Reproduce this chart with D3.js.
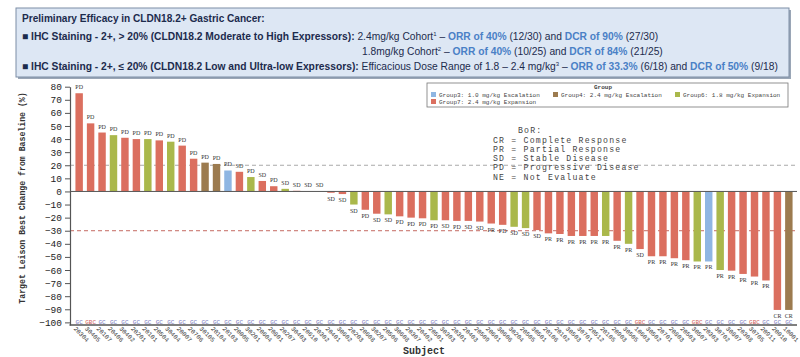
<!DOCTYPE html>
<html><head><meta charset="utf-8">
<script src="https://cdn.jsdelivr.net/npm/d3@7"></script>
<style>
body{margin:0;background:#fff;}
svg{display:block;}
</style></head><body>
<svg id="c" width="800" height="357"></svg>
<script>
const subjects = ["20304","30405","20107","20406","30402","20201","20101","20504","30404","20007","20706","30105","20104","20103","20005","30201","20604","20801","20207","30403","20610","20302","20401","30602","20203","20608","30207","20506","30608","20307","20402","20501","30303","20301","20403","20509","20601","30606","30204","20505","30501","20106","20102","30503","30701","20512","20105","20903","30505","10603","30502","20701","20803","20503","30507","20303","30702","30807","20308","30705","20911","20010","10001"];
const changes = [75,52,45,43,41,40,40,39,38,35,25,22,21,16,15,11,8,4,2,0.5,0,0,-1,-2,-10,-14,-17,-17.5,-19,-20,-20.5,-22,-22,-22.5,-22.5,-23,-24.5,-25.5,-27,-28,-29.5,-32,-32.5,-34,-34,-34,-34,-37.7,-40,-44,-49.5,-49.5,-51,-52.5,-53.5,-53.5,-60,-60.5,-63,-65,-68,-90.5,-90.5];
const groups = ["G7","G7","G7","G6","G7","G7","G6","G7","G6","G7","G7","G4","G4","G3","G7","G6","G7","G7","G6","G7","G7","G7","G7","G7","G6","G7","G7","G6","G7","G7","G7","G6","G7","G7","G7","G7","G7","G7","G6","G6","G7","G7","G7","G7","G7","G7","G6","G7","G6","G7","G7","G7","G7","G7","G6","G3","G6","G7","G7","G7","G7","G7","G4"];
const bors = ["PD","PD","PD","PD","PD","PD","PD","PD","PD","PD","PD","PD","PD","PD","SD","PD","SD","PD","SD","SD","SD","SD","SD","SD","SD","PD","SD","SD","PD","PD","PD","PD","SD","PD","SD","SD","PR","PD","SD","SD","SD","PR","PR","PR","PR","PR","PR","PR","PR","SD","PR","PR","PR","PR","PR","PR","PR","PR","PR","PR","PR","CR","CR"];
const tumorTypes = ["GC","GBC","GC","GC","GC","GC","GC","GC","GC","GC","GC","GC","GC","GC","GC","GC","GC","GC","GC","GC","GC","GC","GC","GC","GC","GC","GC","GC","GC","GC","GC","GC","GC","GC","GC","GC","GC","GC","GC","GC","GC","GC","GC","GC","GC","GC","GC","GC","GC","GBC","GC","GC","GC","GC","GBC","GC","GC","GC","GC","GBC","GC","GC","GC"];
const yTicks = [80,70,60,50,40,30,20,10,0,-10,-20,-30,-40,-50,-60,-70,-80,-90,-100];
const groupKeys = ["G3","G4","G6","G7"];
const groupNames = ["Group3: 1.0 mg/kg Escalation","Group4: 2.4 mg/kg Escalation","Group6: 1.8 mg/kg Expansion","Group7: 2.4 mg/kg Expansion"];
const borLegend = ["CR = Complete Response","PR = Partial Response","SD = Stable Disease","PD = Progressive Disease","NE = Not Evaluate"];

const color = d3.scaleOrdinal().domain(groupKeys).range(["#8fb6e2","#9c7b4f","#aab84b","#db6f5f"]);
const svg = d3.select("#c");
const mono = "'Liberation Mono','DejaVu Sans Mono',monospace";
const sans = "'Liberation Sans',Arial,sans-serif";

// ---- header box ----
svg.append("rect").attr("x",18).attr("y",10).attr("width",773).attr("height",69).attr("fill","#9aa6b6");
svg.append("rect").attr("x",16).attr("y",8).attr("width",773).attr("height",69)
  .attr("fill","#dde7f4").attr("stroke","#7d8ea6").attr("stroke-width",1);
const hdr = svg.append("g").attr("font-family",sans).attr("fill","#1c2b4d");
hdr.append("text").attr("x",22).attr("y",22).attr("font-size",10.1).attr("font-weight","bold")
  .text("Preliminary Efficacy in CLDN18.2+ Gastric Cancer:");
function line(y, x, parts){
  const t = hdr.append("text").attr("x",x).attr("y",y).attr("font-size",10.25);
  parts.forEach(p=>{
    const s = t.append("tspan").text(p[0]);
    if(p[1]==="b") s.attr("font-weight","bold");
    if(p[1]==="blue") s.attr("font-weight","bold").attr("fill","#4a80c6");
    if(p[1]==="sup") s.attr("font-size",6).attr("dy",-4);
    if(p[1]==="unsup") s.attr("dy",4);
  });
}
line(40,22,[["■ IHC Staining - 2+, > 20% (CLDN18.2 Moderate to High Expressors):","b"],[" 2.4mg/kg Cohort"],["1","sup"],["  – ","unsup"],["ORR of 40%","blue"],[" (12/30) and "],["DCR of 90%","blue"],[" (27/30)"]]);
line(55,362,[["1.8mg/kg Cohort"],["2","sup"],["  – ","unsup"],["ORR of 40%","blue"],[" (10/25) and "],["DCR of 84%","blue"],[" (21/25)"]]);
line(70,22,[["■ IHC Staining - 2+, ≤ 20% (CLDN18.2 Low and Ultra-low Expressors):","b"],[" Efficacious Dose Range of 1.8 – 2.4 mg/kg"],["3","sup"],[" – ","unsup"],["ORR of 33.3%","blue"],[" (6/18) and "],["DCR of 50%","blue"],[" (9/18)"]]);

// ---- scales ----
const x = d3.scaleBand().domain(subjects).range([72,796]).paddingInner(0.35).paddingOuter(0.3);
const y = d3.scaleLinear().domain([-102,80]).range([325,86.7]);

// reference lines
svg.append("line").attr("x1",70).attr("x2",797).attr("y1",y(20)).attr("y2",y(20))
  .attr("stroke","#a9a9a9").attr("stroke-dasharray","4,3").attr("stroke-width",1);
svg.append("line").attr("x1",70).attr("x2",797).attr("y1",y(-30)).attr("y2",y(-30))
  .attr("stroke","#c46a62").attr("stroke-dasharray","4,3").attr("stroke-width",1);

// bars
svg.append("g").selectAll("rect").data(subjects).join("rect")
  .attr("x",d=>x(d)).attr("width",x.bandwidth())
  .attr("y",(d,i)=>y(Math.max(0,changes[i])))
  .attr("height",(d,i)=>Math.abs(y(changes[i])-y(0)))
  .attr("fill",(d,i)=>color(groups[i]));

// zero line
svg.append("line").attr("x1",70).attr("x2",797).attr("y1",y(0)).attr("y2",y(0))
  .attr("stroke","#555").attr("stroke-width",1);

// BoR labels on bars
svg.append("g").attr("font-family","'Liberation Serif',serif").attr("font-size",6).attr("fill","#333")
  .attr("text-anchor","middle")
  .selectAll("text").data(subjects).join("text")
  .attr("x",d=>x(d)+x.bandwidth()/2)
  .attr("y",(d,i)=>changes[i]>=0 ? y(changes[i])-4 : y(changes[i])+8)
  .text((d,i)=>bors[i]);

// tumour type labels
svg.append("g").attr("font-family",mono).attr("font-size",6).attr("text-anchor","middle")
  .selectAll("text").data(subjects).join("text")
  .attr("x",d=>x(d)+x.bandwidth()/2).attr("y",y(-100)+2)
  .attr("fill",(d,i)=>tumorTypes[i]==="GBC"?"#d0605a":"#7a7ac0")
  .text((d,i)=>tumorTypes[i]);

// axes
const ya = svg.append("g").attr("transform","translate(70,0)")
  .call(d3.axisLeft(y).tickValues(yTicks).tickSize(5).tickSizeOuter(0).tickFormat(d3.format("d")));
ya.selectAll("text").attr("font-family",mono).attr("font-size",9.5).attr("fill","#222");
ya.select(".domain").attr("stroke","#555").attr("stroke-width",1.2);
ya.selectAll(".tick line").attr("stroke","#555");

const xa = svg.append("g").attr("transform","translate(0,325)")
  .call(d3.axisBottom(x).tickSize(0).tickSizeOuter(0));
xa.select(".domain").remove();
svg.append("line").attr("x1",69.5).attr("x2",797).attr("y1",325).attr("y2",325)
  .attr("stroke","#555").attr("stroke-width",1.5);
xa.selectAll("text").attr("font-family",mono).attr("font-size",6.3).attr("fill","#333")
  .attr("text-anchor","start").attr("dy",0).attr("y",0)
  .attr("transform","translate(-6,4) rotate(45)");

// axis titles
svg.append("text").attr("transform","translate(25,198) rotate(-90)").attr("text-anchor","middle")
  .attr("font-family",mono).attr("font-size",8.2).attr("font-weight","bold").attr("fill","#333")
  .text("Target Leison Best Change from Baseline (%)");
svg.append("text").attr("x",424).attr("y",354).attr("text-anchor","middle")
  .attr("font-family",mono).attr("font-size",10).attr("font-weight","bold").attr("fill","#333")
  .text("Subject");

// group legend
const lg = svg.append("g").attr("font-family",mono).attr("font-size",6).attr("fill","#444");
lg.append("rect").attr("x",427).attr("y",83).attr("width",361).attr("height",24)
  .attr("fill","#fff").attr("stroke","#777").attr("stroke-width",0.8);
lg.append("text").attr("x",603).attr("y",89).attr("text-anchor","middle").attr("font-weight","bold").text("Group");
const lpos = [[431,97],[553,97],[675,97],[431,104]];
groupKeys.forEach((k,i)=>{
  lg.append("rect").attr("x",lpos[i][0]).attr("y",lpos[i][1]-5).attr("width",5).attr("height",5).attr("fill",color(k));
  lg.append("text").attr("x",lpos[i][0]+8).attr("y",lpos[i][1]).text(groupNames[i]);
});

// BoR legend
const bl = svg.append("g").attr("font-family",mono).attr("font-size",8.2).attr("letter-spacing",1.2).attr("fill","#444");
bl.append("text").attr("x",518).attr("y",133).text("BoR:");
borLegend.forEach((t,i)=>bl.append("text").attr("x",493).attr("y",142.5+i*9.3).text(t));
</script></body></html>
